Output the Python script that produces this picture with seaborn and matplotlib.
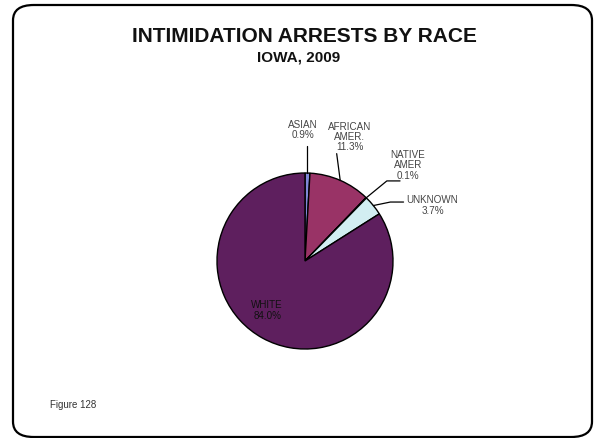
import matplotlib
matplotlib.use("Agg")
import matplotlib.pyplot as plt
import seaborn as sns
from matplotlib.patches import FancyBboxPatch
import numpy as np

sns.set_theme(style="white")
plt.rcParams['font.family'] = ['Liberation Sans', 'DejaVu Sans']

categories = ["ASIAN", "AFRICAN\nAMER.", "NATIVE\nAMER", "UNKNOWN", "WHITE"]
values = [0.9, 11.3, 0.1, 3.7, 84.0]
colors = ["#8088D8", "#993366", "#FFFFCC", "#D2EEF2", "#5E1F5E"]
title = "INTIMIDATION ARRESTS BY RACE"
subtitle = "IOWA, 2009"
footnote = "Figure 128"

W, H = 594, 439
fig = plt.figure(figsize=(W / 100, H / 100), dpi=100)
fig.patch.set_facecolor("white")

# rounded frame
frame = FancyBboxPatch((13 / W, 1 - 438 / H), (592 - 13) / W, (438 - 6) / H,
                       boxstyle="round,pad=0,rounding_size=0.035",
                       transform=fig.transFigure, facecolor="none",
                       edgecolor="black", linewidth=1.6, clip_on=False, zorder=5)
fig.patches.append(frame)

cx, cy, r = 305, 262, 88
ax = fig.add_axes([(cx - r) / W, (H - cy - r) / H, 2 * r / W, 2 * r / H])
ax.set_facecolor("none")
wedges, _ = ax.pie(values, colors=colors, startangle=90, counterclock=False,
                   radius=1.0, wedgeprops=dict(edgecolor="black", linewidth=1.0))
ax.set_xlim(-1, 1)
ax.set_ylim(-1, 1)
ax.set_aspect("auto")
ax.axis("off")

tkw = dict(fontsize=7.1, ha="center", va="center", linespacing=1.05)

# label positions in pie data coords (radius 1)
label_pos = [(-0.02, 1.5), (0.51, 1.42), (1.17, 1.10), (1.45, 0.64), (-0.43, -0.55)]
label_colors = ["#444444", "#444444", "#444444", "#444444", "#111111"]
cum = np.cumsum([0] + values[:-1])
for i, (cat, v) in enumerate(zip(categories, values)):
    mid = np.deg2rad(90 - (cum[i] + v / 2) * 3.6)
    ex, ey = np.cos(mid), np.sin(mid)
    lx, ly = label_pos[i]
    ax.text(lx, ly, f"{cat}\n{v:.1f}%", clip_on=False, color=label_colors[i], **tkw)
    if i == 0:
        ax.plot([ex, ex], [ey, 1.31], color="black", lw=0.9, clip_on=False)
    elif i == 1:
        ax.plot([ex, 0.36], [ey, 1.22], color="black", lw=0.9, clip_on=False)
    elif i == 2:
        ax.plot([ex, 0.93, 1.08], [ey, 0.91, 0.91], color="black", lw=0.9, clip_on=False)
    elif i == 3:
        ax.plot([ex, 0.97, 1.12], [ey, 0.67, 0.67], color="black", lw=0.9, clip_on=False)

fig.text(304 / W, 1 - 37 / H, title, fontsize=15, fontweight="bold",
         ha="center", va="center", color="#111111")
fig.text(299 / W, 1 - 58 / H, subtitle, fontsize=11, fontweight="bold",
         ha="center", va="center", color="#111111")
fig.text(50 / W, 1 - 405 / H, footnote, fontsize=7, ha="left", va="center",
         color="#333333")

fig.savefig("out.png", dpi=100, facecolor="white")
